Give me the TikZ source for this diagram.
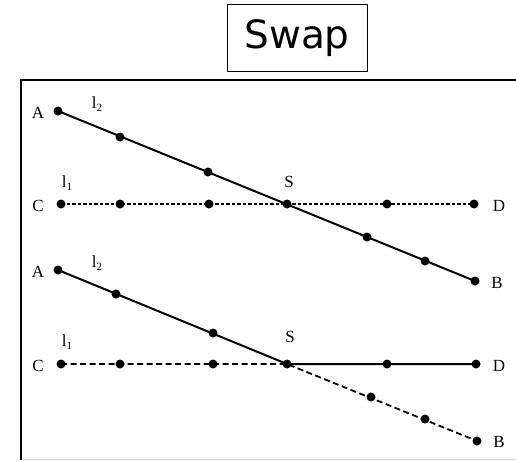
\documentclass[tikz,border=0pt]{standalone}
\usepackage{fontspec}
\setmainfont{Liberation Serif}
\newfontfamily\titlefont{DejaVu Sans}
\tikzset{
  pt/.style={circle,fill=black,inner sep=0pt,minimum size=9pt},
  lab/.style={font=\fontsize{17}{19}\selectfont,inner sep=0pt},
  solidl/.style={line width=2pt},
  dashtop/.style={line width=1.2pt,dash pattern=on 3.5pt off 2pt},
  dashbot/.style={line width=1.8pt,dash pattern=on 6pt off 3.5pt},
  frame/.style={line width=2.2pt},
  titlebox/.style={draw,line width=1pt,minimum width=140pt,minimum height=66pt,inner sep=0pt,font=\titlefont\fontsize{39}{40}\selectfont}
}
\newcommand{\lsub}[1]{l\raisebox{-0.35ex}{\fontsize{11}{12}\selectfont #1}}
\begin{document}
\begin{tikzpicture}[x=1pt,y=-1pt]
\useasboundingbox (0,0) rectangle (516,460);
% title
\node[titlebox] (title) at (297,38) {Swap};
% frame
\coordinate (fbl) at (21,460);
\coordinate (ftl) at (21,80);
\coordinate (ftr) at (516,80);
\coordinate (fbr) at (516,459);
\draw[frame] (fbl) -- (ftl) -- (ftr);
\draw[black!15,line width=1pt] (22,459) -- (fbr);
% ---------- top diagram ----------
\node[pt] (A1) at (58,111) {};
\node[pt] (a1) at (120,137) {};
\node[pt] (a2) at (208,172) {};
\node[pt] (S1) at (287,204) {};
\node[pt] (a3) at (367,237) {};
\node[pt] (a4) at (425,261) {};
\node[pt] (B1) at (475,281) {};
\node[pt] (C1) at (61,204) {};
\node[pt] (c1) at (120,204) {};
\node[pt] (c2) at (209,204) {};
\node[pt] (c3) at (387,204) {};
\node[pt] (D1) at (474,204) {};
\draw[solidl] (A1.center) -- (B1.center);
\draw[dashtop] (C1.center) -- (D1.center);
\node[lab] (lA1) at (38,113) {A};
\node[lab] (l21) at (97,104) {\lsub{2}};
\node[lab] (lC1) at (38,206) {C};
\node[lab] (l11) at (67,183) {\lsub{1}};
\node[lab] (lS1) at (289,182) {S};
\node[lab] (lD1) at (499,206) {D};
\node[lab] (lB1) at (497,283) {B};
% ---------- bottom diagram ----------
\node[pt] (A2) at (58,270) {};
\node[pt] (b1) at (116,294) {};
\node[pt] (b2) at (213,333) {};
\node[pt] (S2) at (287,364) {};
\node[pt] (b3) at (371,397) {};
\node[pt] (b4) at (425,419) {};
\node[pt] (B2) at (477,441) {};
\node[pt] (C2) at (61,364) {};
\node[pt] (d1) at (120,364) {};
\node[pt] (d2) at (213,364) {};
\node[pt] (d3) at (387,364) {};
\node[pt] (D2) at (476,364) {};
\draw[solidl] (A2.center) -- (S2.center) -- (D2.center);
\draw[dashbot] (C2.center) -- (S2.center) -- (B2.center);
\node[lab] (lA2) at (38,272) {A};
\node[lab] (l22) at (97,263) {\lsub{2}};
\node[lab] (lC2) at (38,366) {C};
\node[lab] (l12) at (67,342) {\lsub{1}};
\node[lab] (lS2) at (290,337) {S};
\node[lab] (lD2) at (499,366) {D};
\node[lab] (lB2) at (499,442) {B};
\end{tikzpicture}
\end{document}
